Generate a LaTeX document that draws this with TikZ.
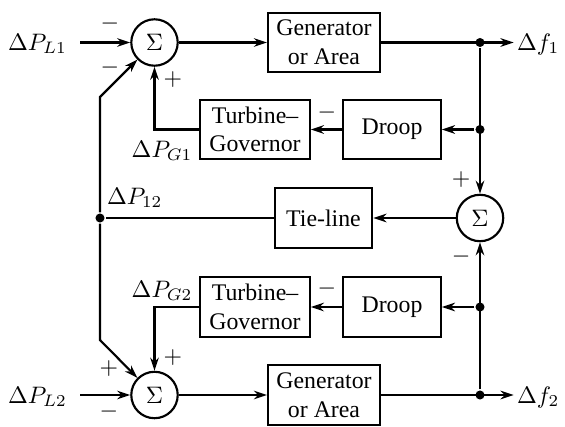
\documentclass[tikz,border=0pt]{standalone}
\usepackage[no-math]{fontspec}
\setmainfont{Liberation Serif}
\usetikzlibrary{arrows.meta,positioning}

\begin{document}
\begin{tikzpicture}[
  x=0.42pt, y=-0.42pt,
  >={Stealth[length=5.5pt,width=3.6pt]},
  line width=0.9pt,
  blk/.style={draw,align=center,inner sep=1pt,minimum height=25pt},
  sumc/.style={draw,circle,minimum size=19.5pt,inner sep=0pt},
  jdot/.style={circle,fill,inner sep=0pt,minimum size=3.8pt},
  sgn/.style={inner sep=0pt},
  lbl/.style={inner sep=0pt,text height=7pt,text depth=0pt}
]
\useasboundingbox (0,0) rectangle (565,426);

% Area 1 loop.
\node[sumc] (s1) at (154.5,42.5) {$\Sigma$};
\node[blk,minimum width=47pt] (gen1) at (324,42.5) {Generator\\or Area};
\node[blk,minimum width=41pt] (droop1) at (392,129.5) {Droop};
\node[blk,minimum width=46pt] (turb1) at (255,129.5) {Turbine--\\Governor};
\node[lbl,anchor=east] (dPL1) at (68,42) {$\Delta P_{L1}$};
\node[lbl,anchor=west] (df1) at (516,42) {$\Delta f_1$};
\node[lbl,anchor=base] (dPG1) at (162,157) {$\Delta P_{G1}$};
\node[jdot] (j1) at (480,42.5) {};
\node[jdot] (j2) at (480,129.5) {};

% Tie-line in the middle.
\node[sumc] (s3) at (480,218) {$\Sigma$};
\node[blk,minimum width=41pt] (tie) at (323.5,218) {Tie-line};
\node[jdot] (jL) at (100,218) {};
\node[lbl,anchor=base west] (dP12) at (106,204) {$\Delta P_{12}$};
\coordinate (c1) at (100,97);
\coordinate (c2) at (100,340);

% Area 2 loop.
\node[sumc] (s2) at (154.5,395) {$\Sigma$};
\node[blk,minimum width=47pt] (gen2) at (324,395) {Generator\\or Area};
\node[blk,minimum width=41pt] (droop2) at (392,307) {Droop};
\node[blk,minimum width=46pt] (turb2) at (255,307) {Turbine--\\Governor};
\node[lbl,anchor=east] (dPL2) at (68,395) {$\Delta P_{L2}$};
\node[lbl,anchor=west] (df2) at (516,395) {$\Delta f_2$};
\node[lbl,anchor=base] (dPG2) at (162,297) {$\Delta P_{G2}$};
\node[jdot] (j3) at (480,307) {};
\node[jdot] (j4) at (480,395) {};

% Signs at the summing points.
\node[sgn] (m11) at (110,24) {$-$};
\node[sgn] (m12) at (110,68) {$-$};
\node[sgn] (p13) at (173,80) {$+$};
\node[sgn] (m14) at (327,113) {$-$};
\node[sgn] (p31) at (461,180) {$+$};
\node[sgn] (m32) at (461,257) {$-$};
\node[sgn] (m24) at (327,289) {$-$};
\node[sgn] (p23) at (173,358) {$+$};
\node[sgn] (p21) at (109,369) {$+$};
\node[sgn] (m22) at (109,412) {$-$};

\draw[->] (dPL1.east) ++(12,0.5) -- (s1.west);
\draw[->] (s1) -- (gen1);
\draw[->] (gen1.east) -- ([xshift=-1pt]df1.west |- gen1.east);
\draw[->] (j1) -- (s3);
\draw[->] (j2) -- (droop1);
\draw[->] (droop1) -- (turb1);
\draw[->] (turb1.west) -| (s1.south);

\draw[->] (s3) -- (tie);
\draw (tie) -- (jL);
\draw[->] (jL) -- (c1) -- (s1.south west);
\draw[->] (jL) -- (c2) -- (s2.north west);

\draw[->] (dPL2.east) ++(12,0) -- (s2.west);
\draw[->] (s2) -- (gen2);
\draw[->] (gen2.east) -- ([xshift=-1pt]df2.west |- gen2.east);
\draw[->] (j4) -- (s3);
\draw[->] (j3) -- (droop2);
\draw[->] (droop2) -- (turb2);
\draw[->] (turb2.west) -| (s2.north);
\end{tikzpicture}
\end{document}
